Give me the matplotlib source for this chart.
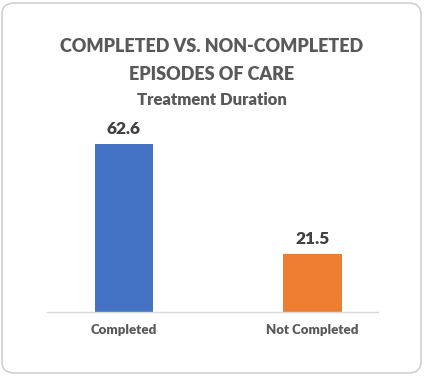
import matplotlib
matplotlib.use("Agg")
import matplotlib.pyplot as plt
from matplotlib.patches import FancyBboxPatch

categories = ["Completed", "Not Completed"]
values = [62.6, 21.5]
colors = ["#4472C4", "#ED7D31"]
title_lines = ["COMPLETED VS. NON-COMPLETED", "EPISODES OF CARE"]
subtitle = "Treatment Duration"

W, H = 424, 376
fig = plt.figure(figsize=(W/100, H/100), dpi=100)
fig.patch.set_facecolor("white")

# rounded border
border = FancyBboxPatch((2/W, 3/H), 419/W, 370/H,
                        boxstyle="round,pad=0,rounding_size=0.03",
                        transform=fig.transFigure, facecolor="white",
                        edgecolor="#d0d0d0", linewidth=1.2, zorder=-10)
fig.patches.append(border)

font = ["Lato", "DejaVu Sans"]

ax_left, ax_right = 47, 378
ax_bottom, ax_top = 312, 110
ax = fig.add_axes([ax_left/W, 1-ax_bottom/H, (ax_right-ax_left)/W, (ax_bottom-ax_top)/H])
ax.set_facecolor("none")
ax.set_zorder(5)
x = list(range(len(categories)))
bars = ax.bar(x, values, width=0.31, color=colors)
ymax = 62.6 * (ax_bottom-ax_top) / (ax_bottom-144)
ax.set_ylim(0, ymax)
ax.set_xlim(-0.408, 1.347)
for s in ["top", "left", "right"]:
    ax.spines[s].set_visible(False)
ax.spines["bottom"].set_color("#d9d9d9")
ax.spines["bottom"].set_linewidth(1.0)
ax.set_yticks([])
ax.set_xticks(x)
ax.set_xticklabels(categories, fontsize=9.5, fontweight="heavy", color="#595959", family=font)
ax.tick_params(axis="x", length=0, pad=9)
for xi, v in zip(x, values):
    ax.annotate(f"{v:.1f}", (xi, v), xytext=(0, 5), textcoords="offset points",
                ha="center", va="bottom", fontsize=12.5, fontweight="heavy",
                color="#404040", family=font)

for yy, line in zip([47, 75], title_lines):
    fig.text(0.5, 1-yy/H, line, ha="center", va="center", fontsize=13, fontweight="heavy",
             color="#595959", family=font)
fig.text(0.5, 1-100/H, subtitle, ha="center", va="center", fontsize=12, fontweight="heavy",
         color="#595959", family=font)

fig.savefig("out.png", dpi=100, facecolor="white")
